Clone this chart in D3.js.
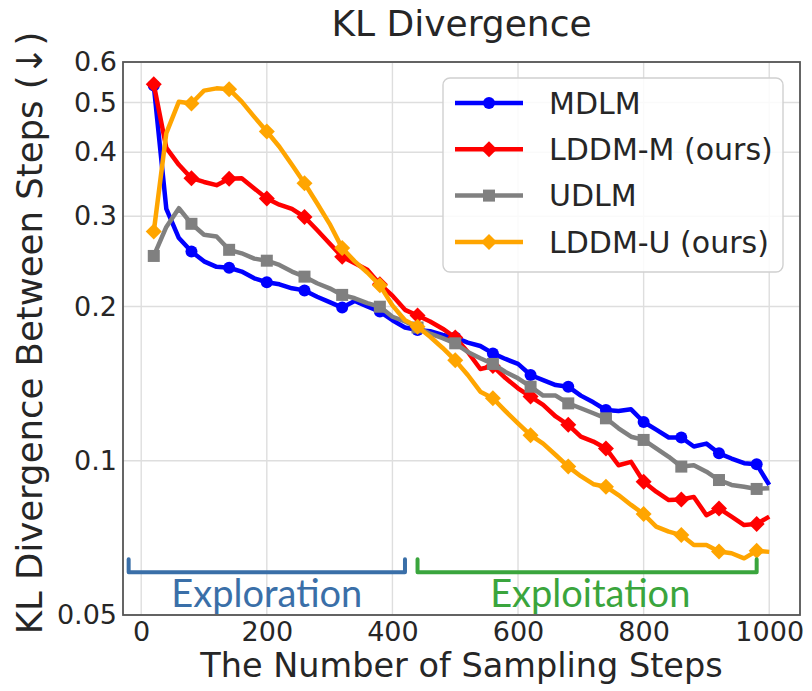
<!DOCTYPE html>
<html>
<head>
    <title>KL Divergence</title>
    <style>
        body { margin: 0; background: #fff; }
        svg { display: block; }
    </style>
</head>
<body>
    <svg id="chart" width="812" height="691"></svg>

    <script src="https://d3js.org/d3.v7.min.js"></script>
    <script>
        // sampling steps (x)
        const steps = [20, 40, 60, 80, 100, 120, 140, 160, 180, 200,
                       220, 240, 260, 280, 300, 320, 340, 360, 380, 400,
                       420, 440, 460, 480, 500, 520, 540, 560, 580, 600,
                       620, 640, 660, 680, 700, 720, 740, 760, 780, 800,
                       820, 840, 860, 880, 900, 920, 940, 960, 980, 1000];

        const mdlm = [0.540, 0.310, 0.272, 0.256, 0.245, 0.239, 0.238, 0.234, 0.227, 0.223,
                      0.221, 0.217, 0.215, 0.209, 0.204, 0.199, 0.205, 0.200, 0.1955, 0.188,
                      0.182, 0.180, 0.179, 0.176, 0.174, 0.170, 0.1675, 0.162, 0.158, 0.1545,
                      0.147, 0.1437, 0.1405, 0.1395, 0.134, 0.130, 0.1256, 0.125, 0.126, 0.119,
                      0.115, 0.111, 0.111, 0.1066, 0.108, 0.1034, 0.101, 0.0989, 0.0984, 0.0897];

        const lddmM = [0.543, 0.408, 0.378, 0.356, 0.350, 0.345, 0.355, 0.356, 0.340, 0.325,
                       0.316, 0.310, 0.299, 0.282, 0.2655, 0.250, 0.243, 0.236, 0.221, 0.210,
                       0.197, 0.192, 0.187, 0.181, 0.174, 0.163, 0.151, 0.153, 0.145, 0.1385,
                       0.1334, 0.1285, 0.122, 0.1175, 0.1114, 0.109, 0.1057, 0.098, 0.0995, 0.091,
                       0.087, 0.0838, 0.084, 0.085, 0.0783, 0.0807, 0.0778, 0.0749, 0.0753, 0.0778];

        const udlm = [0.251, 0.286, 0.311, 0.290, 0.276, 0.274, 0.258, 0.254, 0.248, 0.2457,
                      0.241, 0.234, 0.2287, 0.222, 0.217, 0.2107, 0.2075, 0.203, 0.1998, 0.191,
                      0.187, 0.182, 0.177, 0.1735, 0.1695, 0.163, 0.1585, 0.1545, 0.149, 0.1448,
                      0.1395, 0.134, 0.134, 0.1294, 0.1266, 0.1238, 0.121, 0.1157, 0.1114, 0.1098,
                      0.1057, 0.1018, 0.0974, 0.098, 0.0952, 0.0917, 0.0897, 0.089, 0.0881, 0.0884];

        const lddmU = [0.280, 0.436, 0.502, 0.498, 0.5275, 0.533, 0.531, 0.502, 0.469, 0.439,
                       0.410, 0.378, 0.348, 0.318, 0.290, 0.260, 0.245, 0.233, 0.220, 0.201,
                       0.188, 0.1826, 0.1746, 0.166, 0.157, 0.147, 0.1364, 0.1324, 0.125, 0.1183,
                       0.1122, 0.108, 0.1026, 0.0974, 0.0933, 0.0900, 0.089, 0.0857, 0.082, 0.0787,
                       0.0744, 0.0727, 0.0716, 0.0685, 0.0685, 0.0665, 0.066, 0.0645, 0.0667, 0.0664];

        const seriesNames = ['MDLM', 'LDDM-M (ours)', 'UDLM', 'LDDM-U (ours)'];
        const seriesColors = ['#0000ff', '#ff0000', '#808080', '#ffa500'];
        const seriesMarkers = ['circle', 'diamond', 'square', 'diamond'];
        const seriesValues = [mdlm, lddmM, udlm, lddmU];

        const xTicks = [0, 200, 400, 600, 800, 1000];
        const yTicks = [0.05, 0.1, 0.2, 0.3, 0.4, 0.5, 0.6];
        const yTickLabels = ['0.05', '0.1', '0.2', '0.3', '0.4', '0.5', '0.6'];

        // phase brackets
        const phaseNames = ['Exploration', 'Exploitation'];
        const phaseStart = [-20, 440];
        const phaseEnd = [420, 980];
        const phaseLabelX = [200, 715];
        const phaseColors = ['#3a6fa8', '#3aa53d'];

        const svg = d3.select('#chart');
        const pL = 123, pR = 800, pT = 62, pB = 615;

        const x = d3.scaleLinear().domain([-29, 1049]).range([pL, pR]);
        const y = d3.scaleLog().domain([0.05, 0.6]).range([pB, pT]);

        const font = "'DejaVu Sans', sans-serif";

        // grid
        const grid = svg.append('g').attr('stroke', '#dedede').attr('stroke-width', 1.4);
        grid.selectAll('.vg').data(xTicks).join('line')
            .attr('x1', d => x(d)).attr('x2', d => x(d))
            .attr('y1', pT).attr('y2', pB);
        grid.selectAll('.hg').data(yTicks).join('line')
            .attr('x1', pL).attr('x2', pR)
            .attr('y1', d => y(d)).attr('y2', d => y(d));

        // x axis
        const xAxis = svg.append('g')
            .attr('transform', `translate(0,${pB})`)
            .call(d3.axisBottom(x).tickValues(xTicks).tickSize(0).tickPadding(7).tickFormat(d3.format('d')));
        xAxis.select('.domain').remove();
        xAxis.selectAll('text').attr('font-family', font).attr('font-size', 27).attr('fill', '#262626');

        // y axis
        const yAxis = svg.append('g')
            .attr('transform', `translate(${pL},0)`)
            .call(d3.axisLeft(y).tickValues(yTicks).tickSize(0).tickPadding(6)
                .tickFormat((d, i) => yTickLabels[i]));
        yAxis.select('.domain').remove();
        yAxis.selectAll('text').attr('font-family', font).attr('font-size', 27).attr('fill', '#262626');

        // series lines
        svg.append('clipPath').attr('id', 'plot-clip')
            .append('rect').attr('x', pL).attr('y', pT)
            .attr('width', pR - pL).attr('height', pB - pT);

        const line = d3.line().x((d, i) => x(steps[i])).y(d => y(d));

        function drawMarker(g, type, cx, cy, color) {
            if (type === 'circle') {
                g.append('circle').attr('cx', cx).attr('cy', cy).attr('r', 6).attr('fill', color);
            } else if (type === 'square') {
                g.append('rect').attr('x', cx - 6).attr('y', cy - 6)
                    .attr('width', 12).attr('height', 12).attr('fill', color);
            } else {
                const r = 8;
                g.append('path')
                    .attr('d', `M${cx},${cy - r}L${cx + r},${cy}L${cx},${cy + r}L${cx - r},${cy}Z`)
                    .attr('fill', color);
            }
        }

        const plot = svg.append('g').attr('clip-path', 'url(#plot-clip)');
        seriesValues.forEach((vals, s) => {
            const g = plot.append('g');
            g.append('path')
                .datum(vals)
                .attr('d', line)
                .attr('fill', 'none')
                .attr('stroke', seriesColors[s])
                .attr('stroke-width', 4.5)
                .attr('stroke-linejoin', 'round');
            vals.forEach((v, i) => {
                if (i % 3 === 0) drawMarker(g, seriesMarkers[s], x(steps[i]), y(v), seriesColors[s]);
            });
        });

        // brackets
        const bracketLine = 0.0606, bracketTip = 0.0642, phaseTextY = 0.0518;
        phaseNames.forEach((name, i) => {
            const x0 = x(phaseStart[i]), x1 = x(phaseEnd[i]);
            svg.append('path')
                .attr('d', `M${x0},${y(bracketTip)}L${x0},${y(bracketLine)}L${x1},${y(bracketLine)}L${x1},${y(bracketTip)}`)
                .attr('fill', 'none')
                .attr('stroke', phaseColors[i])
                .attr('stroke-width', 4)
                .attr('stroke-linejoin', 'round')
                .attr('stroke-linecap', 'round');
            svg.append('text')
                .attr('x', x(phaseLabelX[i]))
                .attr('y', y(phaseTextY))
                .attr('text-anchor', 'middle')
                .attr('font-family', "Lato, 'Open Sans', sans-serif")
                .attr('font-size', 38)
                .attr('fill', phaseColors[i])
                .text(name);
        });

        // frame
        svg.append('rect')
            .attr('x', pL).attr('y', pT)
            .attr('width', pR - pL).attr('height', pB - pT)
            .attr('fill', 'none').attr('stroke', '#555').attr('stroke-width', 1.8);

        // legend
        const lg = svg.append('g').attr('transform', 'translate(443,78)');
        lg.append('rect')
            .attr('width', 340).attr('height', 194).attr('rx', 7)
            .attr('fill', 'rgba(255,255,255,0.85)')
            .attr('stroke', '#d0d0d0').attr('stroke-width', 1.4);
        seriesNames.forEach((name, i) => {
            const ry = 25 + i * 46.3;
            lg.append('line')
                .attr('x1', 12).attr('x2', 80).attr('y1', ry).attr('y2', ry)
                .attr('stroke', seriesColors[i]).attr('stroke-width', 4.5);
            drawMarker(lg, seriesMarkers[i], 46, ry, seriesColors[i]);
            lg.append('text')
                .attr('x', 106).attr('y', ry)
                .attr('dy', '0.36em')
                .attr('font-family', font)
                .attr('font-size', 30)
                .attr('fill', '#262626')
                .text(name);
        });

        // labels
        svg.append('text')
            .attr('x', (pL + pR) / 2).attr('y', 36)
            .attr('text-anchor', 'middle')
            .attr('font-family', font).attr('font-size', 36).attr('fill', '#262626')
            .text('KL Divergence');

        svg.append('text')
            .attr('x', (pL + pR) / 2).attr('y', 677)
            .attr('text-anchor', 'middle')
            .attr('font-family', font).attr('font-size', 33.5).attr('fill', '#262626')
            .text('The Number of Sampling Steps');

        svg.append('text')
            .attr('transform', `translate(42,333) rotate(-90)`)
            .attr('text-anchor', 'middle')
            .attr('font-family', font).attr('font-size', 35.5).attr('fill', '#262626')
            .text('KL Divergence Between Steps (\u2193)');
    </script>
</body>
</html>
